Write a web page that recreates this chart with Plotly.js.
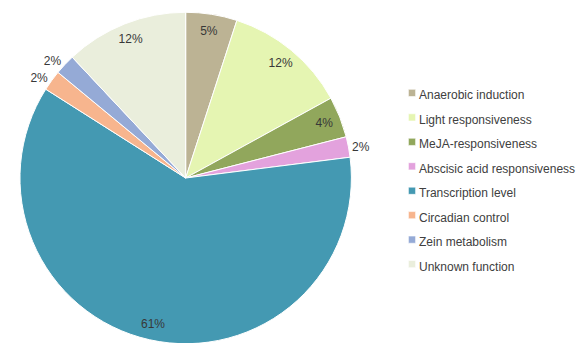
<!DOCTYPE html>
<html>
<head>
<meta charset="utf-8">
<script src="https://cdn.plot.ly/plotly-3.0.1.min.js"></script>
<style>
html,body{margin:0;padding:0;background:#fff;overflow:hidden;width:581px;height:343px;}
#chart{width:581px;height:345px;}
</style>
</head>
<body>
<div id="chart"></div>
<script>
const categories = ["Anaerobic induction","Light responsiveness","MeJA-responsiveness","Abscisic acid responsiveness","Transcription level","Circadian control","Zein metabolism","Unknown function"];
const values = [5, 12, 4, 2, 61, 2, 2, 12];
const colors = ["#BCB394","#E5F5B2","#91A75C","#E3A2DD","#4499B2","#F7B58E","#95AAD6","#EAEEDC"];
const textPositions = ["inside","inside","inside","outside","inside","outside","outside","inside"];

const FONT = "Liberation Sans, Arial, sans-serif";
const pieDomain = {x: [20/581, 352/581], y: [1/345, 333/345]};

// Main pie: the coloured slices and the legend
const pieTrace = {
  type: "pie",
  labels: categories.map(c => '<span style="font-size:12px">' + c + '</span>'),
  values: values,
  sort: false,
  direction: "clockwise",
  rotation: 0,
  marker: {colors: colors, line: {color: "#ffffff", width: 1}},
  textinfo: "none",
  domain: pieDomain,
  hoverinfo: "label+percent"
};

// Label ring: same values, transparent, so the percentages sit near the rim
const labelTrace = {
  type: "pie",
  labels: categories,
  values: values,
  sort: false,
  direction: "clockwise",
  rotation: 0,
  hole: 0.8,
  showlegend: false,
  marker: {colors: categories.map(() => "rgba(0,0,0,0)"), line: {width: 0}},
  texttemplate: "%{percent:.0%}",
  textposition: textPositions,
  insidetextorientation: "horizontal",
  insidetextfont: {family: FONT, size: 12, color: "#383838"},
  outsidetextfont: {family: FONT, size: 12, color: "#383838"},
  domain: pieDomain,
  hoverinfo: "skip"
};

const layout = {
  width: 581,
  height: 345,
  margin: {l: 0, r: 0, t: 0, b: 0},
  paper_bgcolor: "#ffffff",
  showlegend: true,
  legend: {
    x: 0.653, xanchor: "left",
    y: 0.482, yanchor: "middle",
    font: {family: FONT, size: 16.5, color: "#404040"},
    bgcolor: "rgba(0,0,0,0)"
  }
};

Plotly.newPlot("chart", [pieTrace, labelTrace], layout, {displayModeBar: false, staticPlot: true}).then(() => {
  document.querySelectorAll(".legend path.legendpie").forEach(p => {
    p.setAttribute("transform", "translate(33,0) scale(0.6)");
  });
});
</script>
</body>
</html>
